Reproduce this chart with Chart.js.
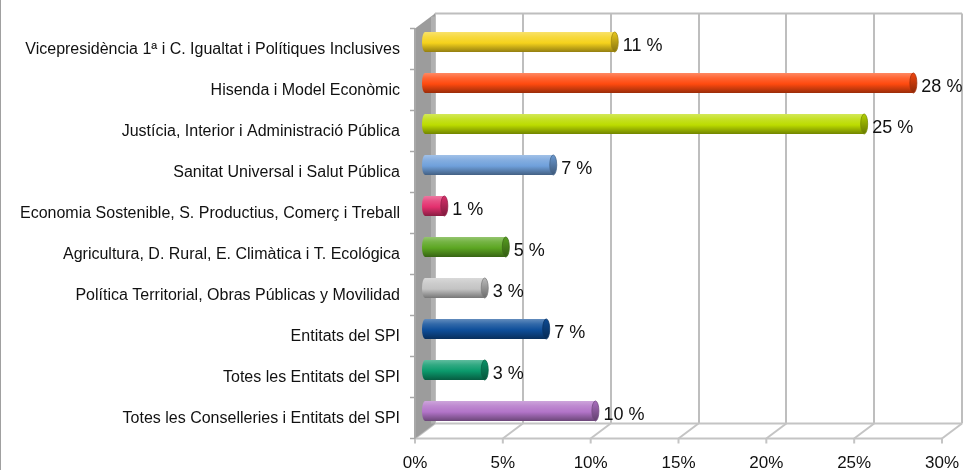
<!DOCTYPE html>
<html><head><meta charset="utf-8">
<script src="https://cdn.jsdelivr.net/npm/chart.js@4.4.1/dist/chart.umd.min.js"></script>
<style>html,body{margin:0;padding:0;background:#fff;}#wrap{width:964px;height:470px;position:relative;}</style>
</head><body><div id="wrap"><canvas id="c" width="964" height="470"></canvas></div>
<script>
const categories = [
  'Vicepresidència 1ª i C. Igualtat i Polítiques Inclusives',
  'Hisenda i Model Econòmic',
  'Justícia, Interior i Administració Pública',
  'Sanitat Universal i Salut Pública',
  'Economia Sostenible, S. Productius, Comerç i Treball',
  'Agricultura, D. Rural, E. Climàtica i T. Ecológica',
  'Política Territorial, Obras Públicas y Movilidad',
  'Entitats del SPI',
  'Totes les Entitats del SPI',
  'Totes les Conselleries i Entitats del SPI'
];
const values = [10.8, 27.8, 25.0, 7.3, 1.1, 4.6, 3.4, 6.9, 3.4, 9.7];
const barColors = ['#F5D21C', '#FF4A0F', '#BCDC00', '#6FA0DB', '#E3306E', '#5CA622', '#C4C4C4', '#0E4E9A', '#0B9A6C', '#B274C8'];
const xTickValues = [0, 5, 10, 15, 20, 25, 30];

const FONT = '"Liberation Sans", Arial, sans-serif';
const BAR_PCT = 0.49;
const BACK = {dx: 10, dy: -8};
const FRONT = {dx: -10, dy: 7};

function hexToRgb(h){h=h.replace('#','');return [parseInt(h.substr(0,2),16),parseInt(h.substr(2,2),16),parseInt(h.substr(4,2),16)];}
function mix(hex, t){
  const c = hexToRgb(hex).map(v => t>=0 ? Math.round(v + (255-v)*t) : Math.round(v*(1+t)));
  return 'rgb('+c.join(',')+')';
}
function barGradient(ctx2d, yc, h, col){
  if (!isFinite(yc) || !isFinite(h) || h <= 0) return col;
  const g = ctx2d.createLinearGradient(0, yc - h/2, 0, yc + h/2);
  g.addColorStop(0, mix(col, 0.35));
  g.addColorStop(0.25, mix(col, 0.15));
  g.addColorStop(0.55, col);
  g.addColorStop(1, mix(col, -0.4));
  return g;
}

const threeD = {
  id: 'threeD',
  beforeDatasetsDraw(chart){
    const ctx = chart.ctx, xs = chart.scales.x, ys = chart.scales.y, a = chart.chartArea;
    const x0 = xs.getPixelForValue(xTickValues[0]);
    const x1 = xs.getPixelForValue(xTickValues[xTickValues.length-1]);
    ctx.save();
    ctx.strokeStyle = '#A0A0A0'; ctx.lineWidth = 2;
    ctx.beginPath(); ctx.moveTo(0, 0); ctx.lineTo(0, 470); ctx.stroke();
    const bT = a.top + BACK.dy, bB = a.bottom + BACK.dy;
    const fT = a.top + FRONT.dy, fB = a.bottom + FRONT.dy;
    ctx.strokeStyle = '#BEBEBE'; ctx.lineWidth = 2;
    xTickValues.forEach(v => {
      const px = Math.round(xs.getPixelForValue(v) + BACK.dx);
      ctx.beginPath(); ctx.moveTo(px, bT); ctx.lineTo(px, bB); ctx.stroke();
    });
    ctx.beginPath(); ctx.moveTo(x0 + BACK.dx, bT); ctx.lineTo(x1 + BACK.dx, bT); ctx.stroke();
    ctx.strokeStyle = '#C4C4C4'; ctx.lineWidth = 2;
    ctx.beginPath();
    ctx.moveTo(x0 + FRONT.dx, fB); ctx.lineTo(x1 + FRONT.dx, fB);
    ctx.moveTo(x0 + BACK.dx, bB); ctx.lineTo(x1 + BACK.dx, bB);
    ctx.stroke();
    xTickValues.forEach(v => {
      const px = xs.getPixelForValue(v);
      ctx.beginPath(); ctx.moveTo(px + FRONT.dx, fB); ctx.lineTo(px + BACK.dx, bB); ctx.stroke();
      ctx.beginPath(); ctx.moveTo(px + FRONT.dx, fB); ctx.lineTo(px + FRONT.dx, fB + 5); ctx.stroke();
    });
    ctx.fillStyle = '#9C9C9C';
    ctx.beginPath();
    ctx.moveTo(x0 + FRONT.dx, fT); ctx.lineTo(x0 + BACK.dx, bT);
    ctx.lineTo(x0 + BACK.dx, bB); ctx.lineTo(x0 + FRONT.dx, fB); ctx.closePath(); ctx.fill();
    ctx.fillStyle = '#B0B0B0';
    ctx.fillRect(x0 + BACK.dx - 4, bT + 3, 4, bB - bT - 3);
    ctx.strokeStyle = '#A8A8A8'; ctx.lineWidth = 2;
    ctx.beginPath(); ctx.moveTo(x0 + FRONT.dx, fT); ctx.lineTo(x0 + FRONT.dx, fB); ctx.stroke();
    const step = (ys.getPixelForValue(1) - ys.getPixelForValue(0));
    ctx.lineWidth = 1.5;
    for (let i = 0; i <= categories.length; i++) {
      const py = ys.getPixelForValue(i) - step/2 + FRONT.dy;
      ctx.beginPath(); ctx.moveTo(x0 + FRONT.dx - 5, py); ctx.lineTo(x0 + FRONT.dx, py); ctx.stroke();
    }
    ctx.restore();
  },
  afterDatasetsDraw(chart){
    const ctx = chart.ctx;
    const meta = chart.getDatasetMeta(0);
    ctx.save();
    meta.data.forEach((el, i) => {
      const {x, y, base, height} = el.getProps(['x','y','base','height'], true);
      const col = barColors[i];
      const h = height;
      ctx.fillStyle = barGradient(ctx, y, h, col);
      ctx.beginPath(); ctx.ellipse(base, y, 3, h/2, 0, Math.PI/2, Math.PI*1.5); ctx.closePath(); ctx.fill();
      const g = ctx.createLinearGradient(0, y - h/2, 0, y + h/2);
      g.addColorStop(0, mix(col, -0.05)); g.addColorStop(1, mix(col, -0.45));
      ctx.fillStyle = g;
      ctx.beginPath(); ctx.ellipse(x, y, 3.5, h/2, 0, 0, Math.PI*2); ctx.fill();
      ctx.strokeStyle = mix(col, -0.35); ctx.lineWidth = 0.8; ctx.stroke();
      ctx.fillStyle = '#111';
      ctx.font = '18px ' + FONT;
      ctx.textAlign = 'left'; ctx.textBaseline = 'middle';
      ctx.fillText(Math.round(values[i]) + ' %', x + 8, y + 4);
    });
    ctx.restore();
  }
};

new Chart(document.getElementById('c'), {
  type: 'bar',
  data: {
    labels: categories,
    datasets: [{
      data: values,
      backgroundColor: (c) => {
        const ch = c.chart, ys = ch.scales && ch.scales.y;
        const col = barColors[c.dataIndex] || barColors[0];
        if (!ys || c.dataIndex === undefined) return col;
        const yc = ys.getPixelForValue(c.dataIndex);
        const step = ys.getPixelForValue(1) - ys.getPixelForValue(0);
        return barGradient(ch.ctx, yc, step * BAR_PCT, col);
      },
      borderWidth: 0,
      barPercentage: BAR_PCT,
      categoryPercentage: 1
    }]
  },
  options: {
    indexAxis: 'y',
    responsive: false,
    animation: false,
    devicePixelRatio: 1,
    layout: {padding: {top: 21.5, right: 12, left: 0, bottom: 0}},
    plugins: {legend: {display: false}, tooltip: {enabled: false}},
    scales: {
      x: {
        min: 0, max: 30,
        afterBuildTicks: (s) => { s.ticks = xTickValues.map(v => ({value: v})); },
        afterFit: (s) => { s.height = 38.5; s.paddingLeft = 0; s.paddingRight = 0; },
        ticks: {
          callback: (v) => v + '%',
          font: {family: FONT, size: 17}, color: '#111',
          labelOffset: -10, padding: 22, maxRotation: 0, autoSkip: false
        },
        grid: {display: false, drawTicks: false},
        border: {display: false}
      },
      y: {
        afterFit: (s) => { s.width = 425; s.paddingTop = 0; s.paddingBottom = 0; },
        ticks: {
          font: {family: FONT, size: 16}, color: '#111',
          labelOffset: 8, padding: 25, autoSkip: false
        },
        grid: {display: false, drawTicks: false},
        border: {display: false}
      }
    }
  },
  plugins: [threeD]
});
</script>
</body></html>
